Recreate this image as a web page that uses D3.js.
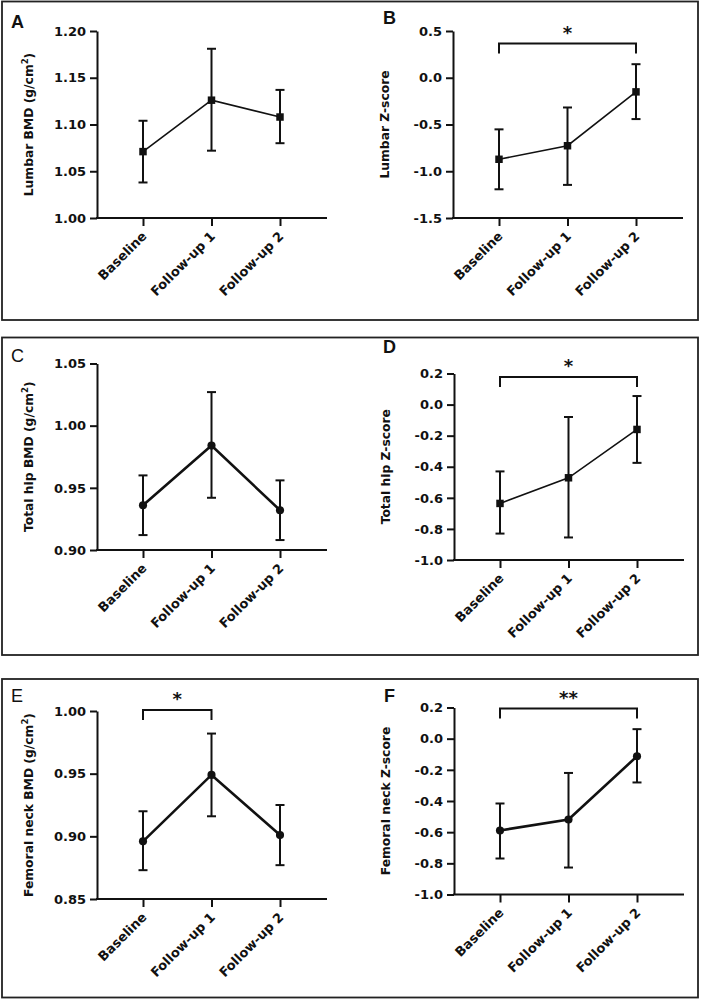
<!DOCTYPE html>
<html>
<head>
<meta charset="utf-8">
<script src="https://cdn.jsdelivr.net/npm/d3@7"></script>
<style>
  html, body { margin: 0; padding: 0; background: #fff; }
  svg { display: block; }
  .tick text { font-family: "DejaVu Sans", sans-serif; font-weight: bold; font-size: 13px; fill: #111; }
</style>
</head>
<body>
<svg id="chart" width="702" height="999"></svg>
<script>
// ---------------- DATA ----------------
const categories = ["Baseline", "Follow-up 1", "Follow-up 2"];

// A: Lumbar BMD (g/cm2)
const lumbarBMDMean = [1.071, 1.126, 1.108];
const lumbarBMDLow  = [1.038, 1.072, 1.080];
const lumbarBMDHigh = [1.104, 1.181, 1.137];
const lumbarBMDTicks = [1.00, 1.05, 1.10, 1.15, 1.20];

// B: Lumbar Z-score
const lumbarZMean = [-0.872, -0.727, -0.151];
const lumbarZLow  = [-1.193, -1.146, -0.442];
const lumbarZHigh = [-0.552, -0.318, 0.145];
const lumbarZTicks = [-1.5, -1.0, -0.5, 0.0, 0.5];

// C: Total hip BMD (g/cm2)
const hipBMDMean = [0.936, 0.984, 0.932];
const hipBMDLow  = [0.912, 0.942, 0.908];
const hipBMDHigh = [0.960, 1.027, 0.956];
const hipBMDTicks = [0.90, 0.95, 1.00, 1.05];

// D: Total hip Z-score
const hipZMean = [-0.636, -0.471, -0.160];
const hipZLow  = [-0.830, -0.855, -0.375];
const hipZHigh = [-0.430, -0.080, 0.055];
const hipZTicks = [-1.0, -0.8, -0.6, -0.4, -0.2, 0.0, 0.2];

// E: Femoral neck BMD (g/cm2)
const neckBMDMean = [0.896, 0.949, 0.901];
const neckBMDLow  = [0.873, 0.916, 0.877];
const neckBMDHigh = [0.920, 0.982, 0.925];
const neckBMDTicks = [0.85, 0.90, 0.95, 1.00];

// F: Femoral neck Z-score
const neckZMean = [-0.589, -0.519, -0.113];
const neckZLow  = [-0.769, -0.827, -0.281];
const neckZHigh = [-0.416, -0.220, 0.061];
const neckZTicks = [-1.0, -0.8, -0.6, -0.4, -0.2, 0.0, 0.2];

// significance comparisons
const sigB = [{ from: "Baseline", to: "Follow-up 2", label: "*" }];
const sigD = [{ from: "Baseline", to: "Follow-up 2", label: "*" }];
const sigE = [{ from: "Baseline", to: "Follow-up 1", label: "*" }];
const sigF = [{ from: "Baseline", to: "Follow-up 2", label: "**" }];

// ---------------- LAYOUT ----------------
const boxes = [
  { x: 2, y: 1.5, w: 696, h: 318.5 },
  { x: 2, y: 337.5, w: 696, h: 317.5 },
  { x: 2, y: 679, w: 696, h: 318.5 }
];

const panels = [
  { letter: "A", bold: true, lx: 11, ly: 28, ax: 97, top: 31, bottom: 218,
    title: "Lumbar BMD (g/cm", sup: "2", mean: lumbarBMDMean, low: lumbarBMDLow, high: lumbarBMDHigh,
    ticks: lumbarBMDTicks, dec: 2, marker: "square", lw: 1.6, sig: [], sigOff: 0 },
  { letter: "B", bold: true, lx: 383, ly: 24, ax: 453, top: 31, bottom: 218,
    title: "Lumbar Z-score", sup: null, mean: lumbarZMean, low: lumbarZLow, high: lumbarZHigh,
    ticks: lumbarZTicks, dec: 1, marker: "square", lw: 1.6, sig: sigB, sigOff: 12.5 },
  { letter: "C", bold: false, lx: 11, ly: 362, ax: 97, top: 363.5, bottom: 550,
    title: "Total hip BMD (g/cm", sup: "2", mean: hipBMDMean, low: hipBMDLow, high: hipBMDHigh,
    ticks: hipBMDTicks, dec: 2, marker: "circle", lw: 2.6, sig: [], sigOff: 0 },
  { letter: "D", bold: true, lx: 383, ly: 353, ax: 454, top: 373.5, bottom: 560,
    title: "Total hip Z-score", sup: null, mean: hipZMean, low: hipZLow, high: hipZHigh,
    ticks: hipZTicks, dec: 1, marker: "square", lw: 1.6, sig: sigD, sigOff: 3.5 },
  { letter: "E", bold: false, lx: 11, ly: 702, ax: 97, top: 711, bottom: 899,
    title: "Femoral neck BMD (g/cm", sup: "2", mean: neckBMDMean, low: neckBMDLow, high: neckBMDHigh,
    ticks: neckBMDTicks, dec: 2, marker: "circle", lw: 2.6, sig: sigE, sigOff: -1 },
  { letter: "F", bold: true, lx: 384, ly: 702, ax: 454, top: 707.5, bottom: 894.5,
    title: "Femoral neck Z-score", sup: null, mean: neckZMean, low: neckZLow, high: neckZHigh,
    ticks: neckZTicks, dec: 1, marker: "circle", lw: 2.6, sig: sigF, sigOff: 1 }
];

const svg = d3.select("#chart");
const ink = "#111";

svg.selectAll("rect.box").data(boxes).join("rect")
  .attr("class", "box")
  .attr("x", d => d.x).attr("y", d => d.y)
  .attr("width", d => d.w).attr("height", d => d.h)
  .attr("fill", "none").attr("stroke", "#222").attr("stroke-width", 1.8);

panels.forEach(p => {
  const g = svg.append("g");
  const y = d3.scaleLinear()
    .domain([p.ticks[0], p.ticks[p.ticks.length - 1]])
    .range([p.bottom, p.top]);
  const x = d3.scalePoint().domain(categories).range([p.ax + 46, p.ax + 183]);

  // panel letter
  g.append("text").attr("x", p.lx).attr("y", p.ly)
    .attr("font-family", "Liberation Sans, Arial, sans-serif")
    .attr("font-size", 18).attr("font-weight", p.bold ? "bold" : "normal")
    .attr("fill", ink).text(p.letter);

  // y axis
  const yAxis = d3.axisLeft(y).tickValues(p.ticks)
    .tickFormat(d => d.toFixed(p.dec)).tickSize(7).tickSizeOuter(0).tickPadding(4);
  const yg = g.append("g").attr("transform", `translate(${p.ax},0)`).call(yAxis);
  yg.selectAll("path.domain, .tick line").attr("stroke", ink).attr("stroke-width", 2);

  // x axis
  const xAxis = d3.axisBottom(x).tickSize(8).tickSizeOuter(0);
  const xg = g.append("g").attr("transform", `translate(0,${p.bottom})`).call(xAxis);
  xg.select("path.domain").remove();
  xg.selectAll(".tick line").attr("stroke", ink).attr("stroke-width", 2);
  xg.selectAll(".tick text")
    .attr("x", 0).attr("y", 0).attr("dy", 0)
    .attr("text-anchor", "end")
    .attr("transform", "translate(4,19) rotate(-45)");
  g.append("line")
    .attr("x1", p.ax - 1).attr("x2", p.ax + 230)
    .attr("y1", p.bottom).attr("y2", p.bottom)
    .attr("stroke", ink).attr("stroke-width", 2);

  // y title
  const t = g.append("text")
    .attr("transform", `translate(${p.ax - 64},${(p.top + p.bottom) / 2}) rotate(-90)`)
    .attr("text-anchor", "middle")
    .attr("font-family", "DejaVu Sans, sans-serif")
    .attr("font-weight", "bold").attr("font-size", 12.3).attr("fill", ink);
  t.append("tspan").text(p.title);
  if (p.sup) {
    t.append("tspan").attr("font-size", 8.5).attr("dy", -5).text(p.sup);
    t.append("tspan").attr("dy", 5).text(")");
  }

  const pts = categories.map((c, i) => ({ c, m: p.mean[i], lo: p.low[i], hi: p.high[i] }));

  // error bars
  const eb = g.append("g").attr("stroke", ink).attr("stroke-width", 2);
  eb.selectAll("line.v").data(pts).join("line").attr("class", "v")
    .attr("x1", d => x(d.c)).attr("x2", d => x(d.c))
    .attr("y1", d => y(d.lo)).attr("y2", d => y(d.hi));
  eb.selectAll("line.ct").data(pts).join("line").attr("class", "ct")
    .attr("x1", d => x(d.c) - 4.5).attr("x2", d => x(d.c) + 4.5)
    .attr("y1", d => y(d.hi)).attr("y2", d => y(d.hi));
  eb.selectAll("line.cb").data(pts).join("line").attr("class", "cb")
    .attr("x1", d => x(d.c) - 4.5).attr("x2", d => x(d.c) + 4.5)
    .attr("y1", d => y(d.lo)).attr("y2", d => y(d.lo));

  // mean line
  g.append("path").datum(pts)
    .attr("fill", "none").attr("stroke", ink).attr("stroke-width", p.lw)
    .attr("d", d3.line().x(d => x(d.c)).y(d => y(d.m)));

  // markers
  const sym = d3.symbol().type(p.marker === "square" ? d3.symbolSquare : d3.symbolCircle)
    .size(p.marker === "square" ? 56 : 52);
  g.selectAll("path.mk").data(pts).join("path").attr("class", "mk")
    .attr("transform", d => `translate(${x(d.c)},${y(d.m)})`)
    .attr("d", sym).attr("fill", ink);

  // significance brackets
  p.sig.forEach(s => {
    const by = p.top + p.sigOff;
    const x1 = x(s.from), x2 = x(s.to);
    g.append("path")
      .attr("d", `M${x1},${by + 10}V${by}H${x2}V${by + 10}`)
      .attr("fill", "none").attr("stroke", ink).attr("stroke-width", 2);
    g.append("text").attr("x", (x1 + x2) / 2).attr("y", by - 5)
      .attr("text-anchor", "middle")
      .attr("font-family", "DejaVu Sans, sans-serif")
      .attr("font-weight", "bold").attr("font-size", 18).attr("fill", ink)
      .text(s.label);
  });
});
</script>
</body>
</html>
